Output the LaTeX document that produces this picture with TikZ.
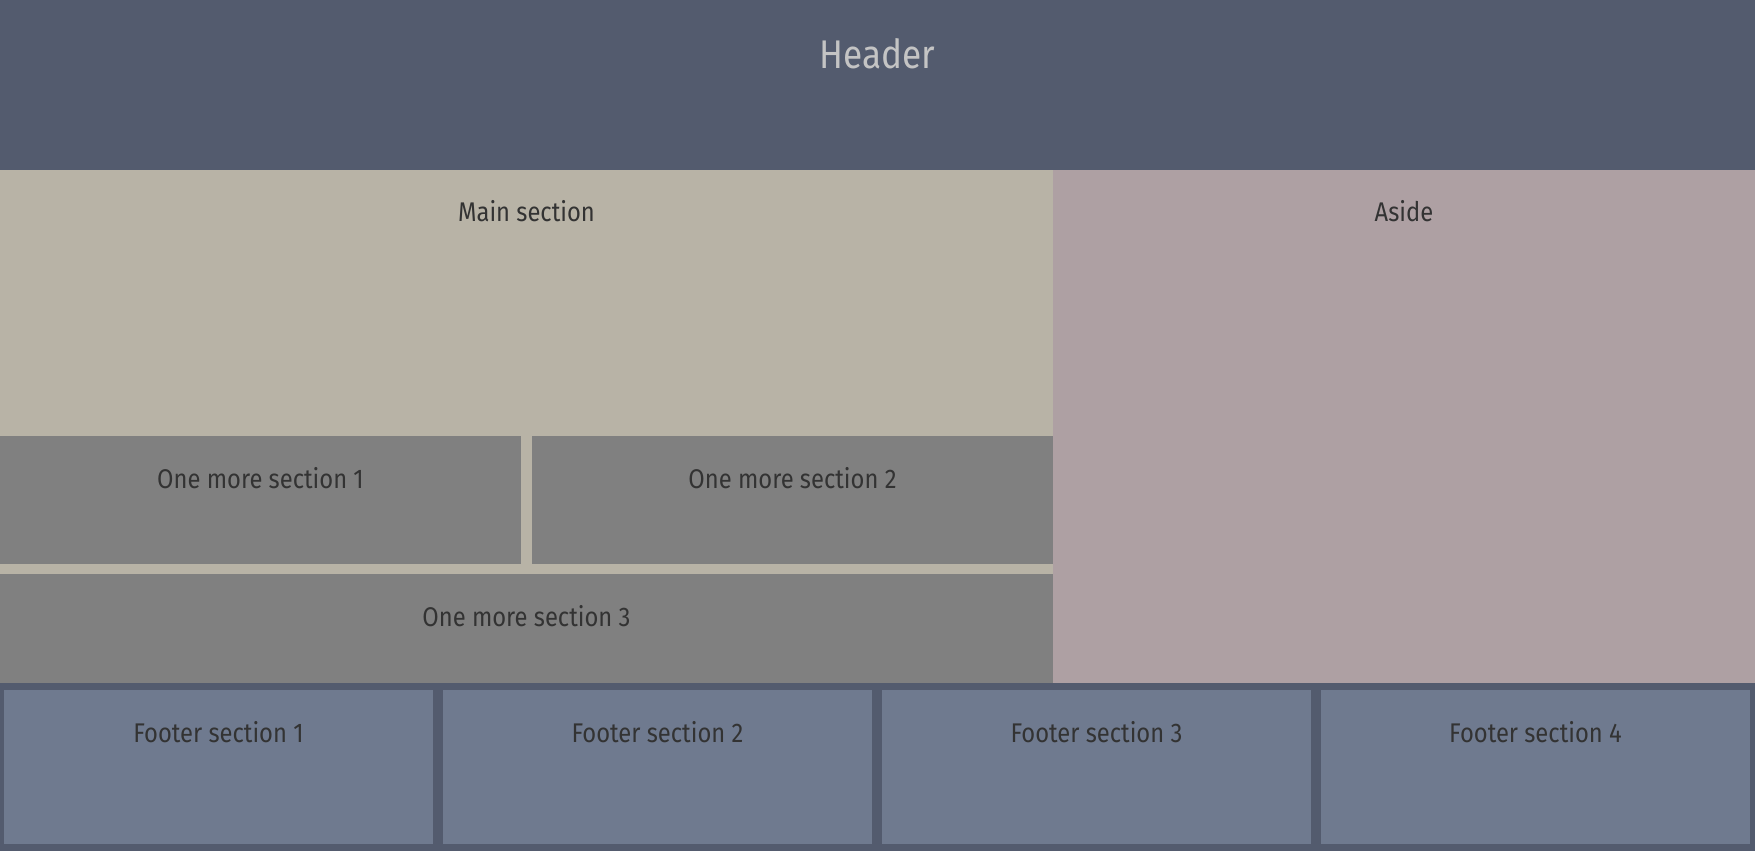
\documentclass[tikz,border=0pt]{standalone}
\usepackage{fontspec}
\setmainfont[FakeStretch=0.88]{Fira Sans}
\definecolor{headbg}{HTML}{535B6E}
\definecolor{mainbg}{HTML}{B8B3A6}
\definecolor{asidebg}{HTML}{AEA0A3}
\definecolor{sectbg}{HTML}{808080}
\definecolor{footbox}{HTML}{6F7A8F}
\definecolor{headtxt}{HTML}{C4C4C4}
\definecolor{bodytxt}{HTML}{333333}
\tikzset{
  lbl/.style={font=\fontsize{27}{30}\selectfont, text=bodytxt, inner sep=0pt},
}
\begin{document}
\begin{tikzpicture}[x=1pt,y=-1pt]
\useasboundingbox (0,0) rectangle (1755,851);
% header band and footer band
\fill[headbg] (0,0) rectangle (1755,170);
\fill[headbg] (0,683) rectangle (1755,851);
% main area and aside
\fill[mainbg] (0,170) rectangle (1053,683);
\fill[asidebg] (1053,170) rectangle (1755,683);
% inner sections
\fill[sectbg] (0,436) rectangle (521,564);
\fill[sectbg] (532,436) rectangle (1053,564);
\fill[sectbg] (0,574) rectangle (1053,683);
% footer boxes
\foreach \i in {0,1,2,3}{
  \fill[footbox] ({4+\i*439},690) rectangle ({433+\i*439},844);
}
% labels
\node[font=\fontsize{40}{44}\selectfont, text=headtxt, inner sep=0pt] (header) at (877.5,54) {Header};
\node[lbl] (main) at (526.5,211) {Main section};
\node[lbl] (aside) at (1404,211) {Aside};
\node[lbl] (s1) at (260.5,478) {One more section 1};
\node[lbl] (s2) at (792.5,478) {One more section 2};
\node[lbl] (s3) at (526.5,616) {One more section 3};
\node[lbl] (f1) at (218.5,732) {Footer section 1};
\node[lbl] (f2) at (657.5,732) {Footer section 2};
\node[lbl] (f3) at (1096.5,732) {Footer section 3};
\node[lbl] (f4) at (1535.5,732) {Footer section 4};
\end{tikzpicture}
\end{document}
